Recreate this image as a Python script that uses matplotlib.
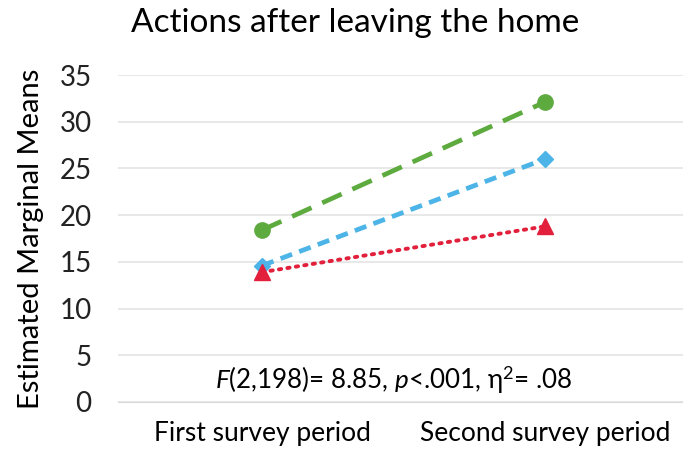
import matplotlib
matplotlib.use("Agg")
import matplotlib.pyplot as plt

plt.rcParams['font.family'] = ['Lato', 'DejaVu Sans']
plt.rcParams['mathtext.fontset'] = 'custom'
plt.rcParams['mathtext.rm'] = 'Lato'
plt.rcParams['mathtext.it'] = 'Lato:italic'

periods = ['First survey period', 'Second survey period']
green_vals = [18.4, 32.1]
blue_vals = [14.6, 26.0]
red_vals = [13.9, 18.8]

fig = plt.figure(figsize=(6.83, 4.59), dpi=100)
ax = fig.add_axes([118 / 683, 1 - 402 / 459, 1 - 118 / 683, (402 - 75) / 459])

x = range(len(periods))
ax.plot(x, green_vals, color='#5DAA3F', lw=3.4, linestyle=(0, (4.5, 2.5)),
        marker='o', markersize=11, zorder=3)
ax.plot(x, blue_vals, color='#4CB4E6', lw=3.4, linestyle=(0, (2.6, 1.6)),
        marker='D', markersize=8, zorder=3)
ax.plot(x, red_vals, color='#E3203C', lw=2.8, linestyle=(0, (0.6, 1.6)),
        dash_capstyle='round', marker='^', markersize=11, zorder=3)

ax.set_ylim(0, 35)
ax.set_yticks(range(0, 36, 5))
ax.set_xlim(-0.509, 1.488)
ax.set_xticks(list(x))
ax.set_xticklabels(periods, fontsize=19)
ax.tick_params(axis='x', length=0, pad=14)
ax.tick_params(axis='y', length=0, labelsize=20, pad=19, colors='#222222')

ax.grid(axis='y', color='#E4E4E4', lw=1.2)
ax.set_axisbelow(True)
for s in ['top', 'right', 'left']:
    ax.spines[s].set_visible(False)
ax.spines['bottom'].set_color('#D9D9D9')

ax.set_ylabel('Estimated Marginal Means', fontsize=21)
ax.yaxis.set_label_coords((44 - 118) / 565, 0.5)

fig.text(0.52, 0.95, 'Actions after leaving the home', ha='center',
         va='center', fontsize=24)

fig.text(215 / 683, 1 - 380 / 459, r'$F$(2,198)= 8.85, $p$<.001, η$^{2}$= .08',
         ha='left', va='center', fontsize=18.7)

fig.savefig('out.png', dpi=100)
